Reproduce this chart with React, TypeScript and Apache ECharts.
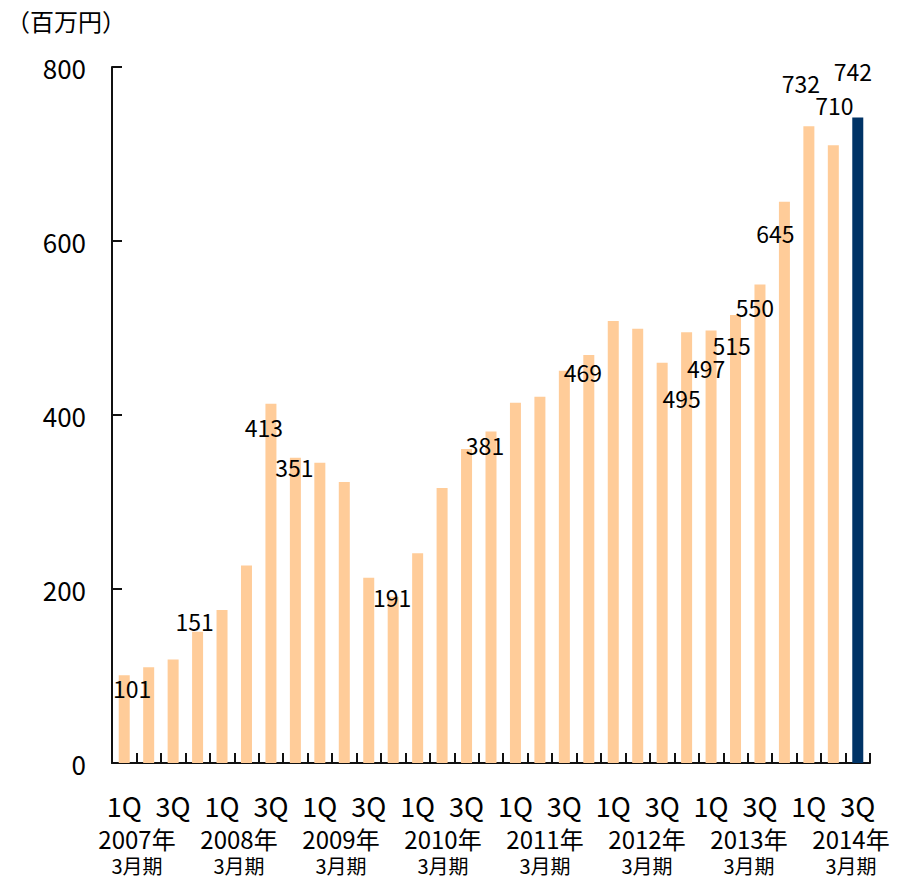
import React, { useEffect, useRef } from "react";
import * as echarts from "echarts";

// ---- data ----
const fiscalYears = ["2007年", "2008年", "2009年", "2010年", "2011年", "2012年", "2013年", "2014年"];
const fiscalSuffix = "3月期";
const quarters = ["1Q", "2Q", "3Q", "4Q"];
const quarterCounts = [4, 4, 4, 4, 4, 4, 4, 3];
const sales = [
  101, 110, 119, 151, 176, 227, 413, 351, 345, 323, 213, 191, 241, 316, 361, 381,
  414, 421, 451, 469, 508, 499, 460, 495, 497, 515, 550, 645, 732, 710, 742,
];
const yTicks = [0, 200, 400, 600, 800];
const unitLabel = "（百万円）";

// ---- styles (label placement, not data) ----
const labelOffsets: Record<number, [number, number]> = {
  0: [8, 24],
  3: [-3, 0],
  6: [-7, 34],
  7: [-1, 20],
  11: [-1, 11],
  15: [-6, 24],
  19: [-6, 28],
  23: [-5, 77],
  24: [-5, 48],
  25: [-4, 41],
  26: [-5, 33],
  27: [-9, 42],
  28: [-8, -32],
  29: [1, -29],
  30: [-5, -35],
};
const FONT = "'Noto Sans CJK JP', 'Noto Sans', sans-serif";
const PEACH = "#FFCC99";
const NAVY = "#003366";

const categories: string[] = [];
fiscalYears.forEach((fy, i) => {
  for (let q = 0; q < quarterCounts[i]; q++) categories.push(`${fy}|${quarters[q]}`);
});

export default function App() {
  const ref = useRef<HTMLDivElement>(null);
  useEffect(() => {
    if (!ref.current) return;
    const chart = echarts.init(ref.current, undefined, { renderer: "svg" });
    const last = sales.length - 1;
    const data = sales.map((v, i) => {
      const off = labelOffsets[i];
      return {
        value: v,
        itemStyle: { color: i === last ? NAVY : PEACH },
        label: off
          ? {
              show: true,
              position: "top",
              distance: 0,
              offset: off,
              fontSize: 23,
              lineHeight: 22,
              color: "#000",
              fontFamily: FONT,
            }
          : { show: false },
      };
    });
    const yearGrid = { left: 86, right: 0, top: 67, bottom: 114, containLabel: false };
    const yearAxisBase = {
      type: "category",
      data: fiscalYears,
      axisLine: { show: false },
      axisTick: { show: false },
    };
    chart.setOption({
      animation: false,
      backgroundColor: "#fff",
      textStyle: { fontFamily: FONT },
      graphic: [
        {
          type: "text",
          x: 6,
          y: 20,
          style: {
            text: unitLabel,
            fontSize: 24,
            fontFamily: FONT,
            fill: "#000",
            verticalAlign: "middle",
          },
        },
      ],
      grid: [
        { left: 112, right: 32, top: 67, bottom: 114, containLabel: false },
        yearGrid,
        yearGrid,
      ],
      xAxis: [
        {
          type: "category",
          gridIndex: 0,
          data: categories,
          boundaryGap: true,
          axisLine: { lineStyle: { color: "#111", width: 2 } },
          axisTick: { show: true, inside: true, length: 10, interval: 0, lineStyle: { color: "#111", width: 2 } },
          axisLabel: {
            interval: 1,
            margin: 29,
            fontSize: 27,
            lineHeight: 26,
            color: "#000",
            fontFamily: FONT,
            formatter: (v: string) => v.split("|")[1],
          },
        },
        {
          ...yearAxisBase,
          gridIndex: 1,
          axisLabel: {
            interval: 0,
            margin: 63,
            fontSize: 24,
            lineHeight: 24,
            color: "#000",
            fontFamily: FONT,
          },
        },
        {
          ...yearAxisBase,
          gridIndex: 2,
          axisLabel: {
            interval: 0,
            margin: 93,
            fontSize: 20,
            lineHeight: 19,
            color: "#000",
            fontFamily: FONT,
            formatter: () => fiscalSuffix,
          },
        },
      ],
      yAxis: [
        {
          type: "value",
          gridIndex: 0,
          min: yTicks[0],
          max: yTicks[yTicks.length - 1],
          interval: yTicks[1] - yTicks[0],
          splitLine: { show: false },
          axisLine: { show: true, lineStyle: { color: "#111", width: 2 } },
          axisTick: { show: true, inside: true, length: 10, lineStyle: { color: "#111", width: 2 } },
          axisLabel: { margin: 26, fontSize: 26, color: "#000", fontFamily: FONT },
        },
        { type: "value", gridIndex: 1, show: false, min: 0, max: 1 },
        { type: "value", gridIndex: 2, show: false, min: 0, max: 1 },
      ],
      series: [
        {
          type: "bar",
          xAxisIndex: 0,
          yAxisIndex: 0,
          barWidth: 11,
          data,
        },
      ],
    });
    return () => chart.dispose();
  }, []);
  return (
    <div
      ref={ref}
      style={{ position: "fixed", left: 0, top: 0, width: 902, height: 877, background: "#fff" }}
    />
  );
}
